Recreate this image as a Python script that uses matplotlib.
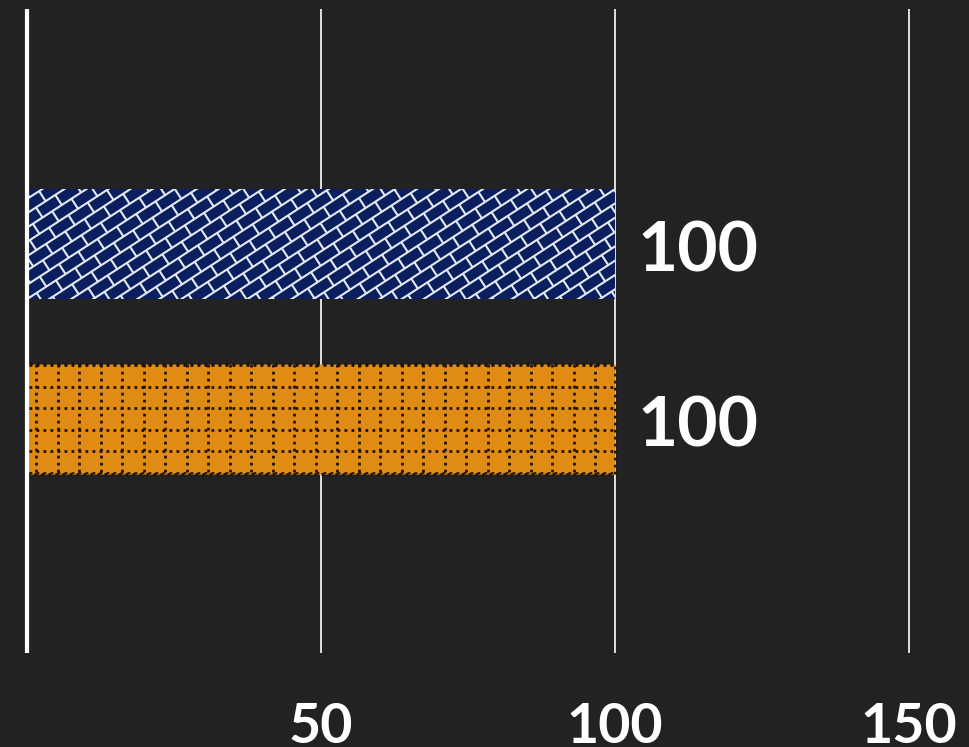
import numpy as np
import matplotlib
matplotlib.use("Agg")
import matplotlib.pyplot as plt
from matplotlib.collections import LineCollection
from matplotlib.transforms import IdentityTransform

# chart data
series = ["Series A", "Series B"]
values = [100, 100]
bar_pos = [1, 0]
xticks = [50, 100, 150]
value_labels = ["100", "100"]

BG = "#222222"
BLUE = "#0b1f5e"
ORANGE = "#e08c14"
FONT = "Lato"


def brick_segments(bbox, angle=33.0, row=12.0, brick=23.0):
    """Diagonal running-bond brick texture, in display pixels."""
    th = np.radians(angle)
    u = np.array([np.cos(th), np.sin(th)])
    v = np.array([-np.sin(th), np.cos(th)])
    origin = np.array([bbox.x0, bbox.y0])
    diag = np.hypot(bbox.width, bbox.height)
    nrow = int(diag / row) + 2
    nb = int(diag / brick) + 2
    segs = []
    for k in range(-nrow, nrow):
        a = origin + v * k * row
        segs.append([a - u * diag, a + u * diag])
        for j in range(-nb, nb):
            p = a + u * (j * brick + (k % 2) * brick / 2)
            segs.append([p, p + v * row])
    return segs


def grid_segments(bbox, step=21.5, ox=9.3, oy=1.5):
    """Square grid texture, in display pixels."""
    segs = []
    x = bbox.x0 + ox
    while x < bbox.x1 + step:
        segs.append([(x, bbox.y0 - 5), (x, bbox.y1 + 5)])
        x += step
    y = bbox.y1 - oy
    while y > bbox.y0 - step:
        segs.append([(bbox.x0 - 5, y), (bbox.x1 + 5, y)])
        y -= step
    return segs


fig = plt.figure(figsize=(9.7, 7.47), dpi=100, facecolor=BG)
ax = fig.add_axes([27 / 970, (747 - 653) / 747, (970 - 27) / 970, 644 / 747])
ax.set_facecolor(BG)
ax.set_xlim(0, (970 - 27) / 5.88)
ax.set_ylim(-1.337, 2.343)

bars = ax.barh(bar_pos, values, height=0.63, color=[BLUE, ORANGE],
               linewidth=0, zorder=2)
bars[1].set_edgecolor("#1e1303")
bars[1].set_linewidth(2.0)
bars[1].set_linestyle((0, (1, 1.52)))

# blue bar: white brick hatch
lc = LineCollection(brick_segments(bars[0].get_window_extent()),
                    colors="#e4eaf4", linewidths=1.5,
                    transform=IdentityTransform(), zorder=3)
ax.add_collection(lc, autolim=False)
lc.set_clip_path(bars[0])

# orange bar: dotted grid
lc2 = LineCollection(grid_segments(bars[1].get_window_extent()),
                     colors="#1e1303", linewidths=2.0,
                     linestyles=[(0, (1, 1.52))],
                     transform=IdentityTransform(), zorder=3)
ax.add_collection(lc2, autolim=False)
lc2.set_clip_path(bars[1])

for y, v, lab in zip(bar_pos, values, value_labels):
    ax.text(v + 22 / 5.88, y - 0.045, lab, ha="left", va="center", color="white",
            fontsize=50, fontweight="bold", family=FONT, zorder=4)

ax.set_xticks(xticks)
ax.set_xticklabels([str(t) for t in xticks], color="white", fontsize=40,
                   fontweight="bold", family=FONT)
ax.tick_params(axis="x", length=0, pad=35)
ax.set_yticks([])
ax.xaxis.grid(True, color="white", linewidth=1.2)
ax.set_axisbelow(True)
for side in ["top", "right", "bottom"]:
    ax.spines[side].set_visible(False)
ax.spines["left"].set_color("white")
ax.spines["left"].set_linewidth(3)
ax.spines["left"].set_capstyle("butt")
ax.spines["left"].set_zorder(5)

fig.savefig("out.png", dpi=100, facecolor=BG)
